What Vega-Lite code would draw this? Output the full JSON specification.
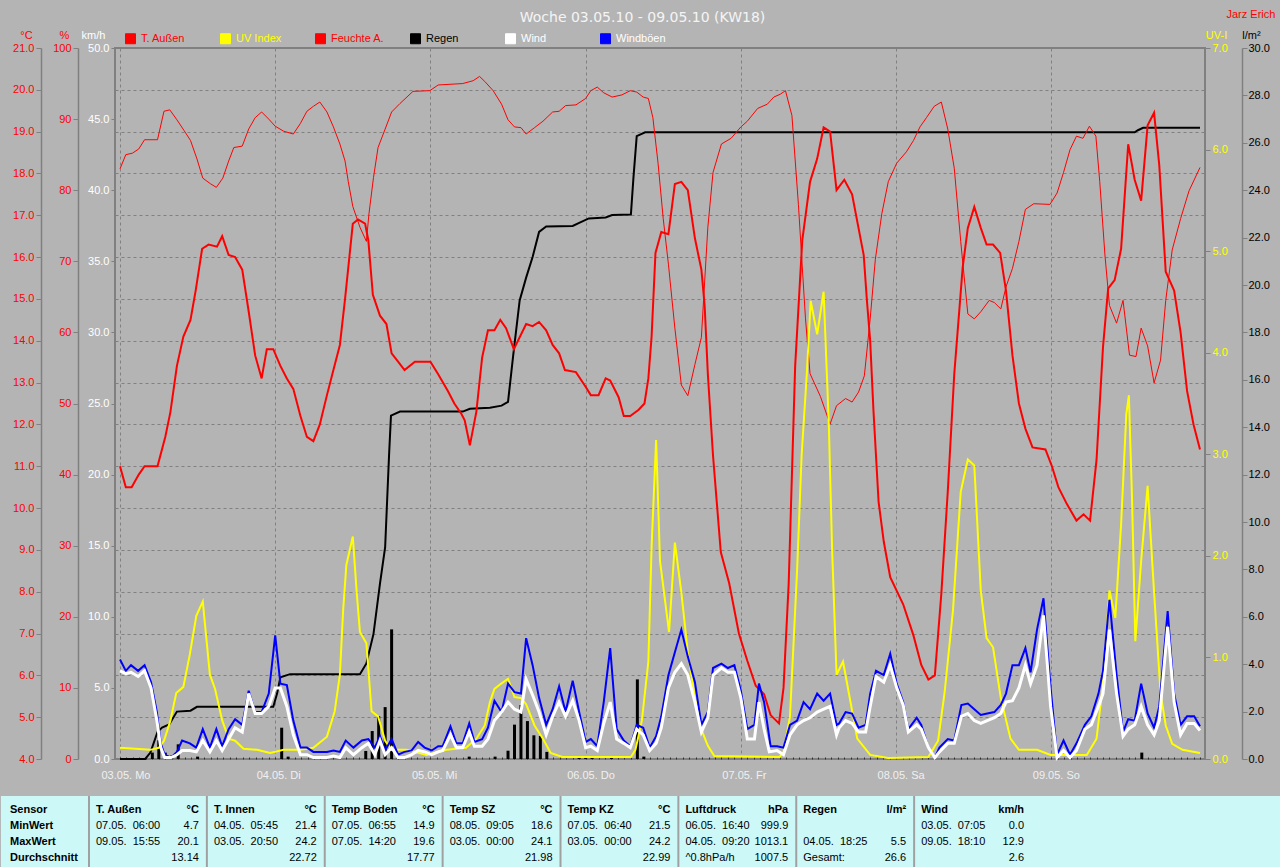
{
  "$schema": "https://vega.github.io/schema/vega-lite/v6.json",
  "background": "#B4B4B4",
  "padding": {"left": 0, "top": 7, "right": 0, "bottom": 0},
  "config": {
    "font": "Liberation Sans",
    "axis": {"labelFont": "Liberation Sans", "labelFontSize": 11, "titleFont": "Liberation Sans", "titleFontSize": 11, "titleFontWeight": "normal", "domainColor": "#808080", "domainWidth": 1.5, "tickColor": "#808080", "tickSize": 5, "labelPadding": 2, "labelOverlap": false, "labelFlush": false, "grid": false, "titleAngle": 0, "titleAlign": "center", "titleBaseline": "alphabetic", "titlePadding": 0},
    "text": {"font": "Liberation Sans", "fontSize": 11, "color": "#000000"},
    "legend": {"labelFont": "Liberation Sans", "labelFontSize": 11}
  },
  "datasets": {
    "temp": [{"h":0,"v":11.0},{"h":0.9,"v":10.5},{"h":1.8,"v":10.5},{"h":2.9,"v":10.8},{"h":3.8,"v":11.0},{"h":5.8,"v":11.0},{"h":7.0,"v":11.7},{"h":7.8,"v":12.3},{"h":8.8,"v":13.4},{"h":9.8,"v":14.1},{"h":10.9,"v":14.5},{"h":11.7,"v":15.2},{"h":12.7,"v":16.2},{"h":13.7,"v":16.3},{"h":15.0,"v":16.25},{"h":15.8,"v":16.5},{"h":16.8,"v":16.05},{"h":17.8,"v":16.0},{"h":18.9,"v":15.7},{"h":19.9,"v":14.7},{"h":20.9,"v":13.65},{"h":21.9,"v":13.1},{"h":22.7,"v":13.8},{"h":23.7,"v":13.8},{"h":24.8,"v":13.4},{"h":25.8,"v":13.1},{"h":26.8,"v":12.85},{"h":27.9,"v":12.2},{"h":28.9,"v":11.7},{"h":29.9,"v":11.6},{"h":30.9,"v":12.0},{"h":32.0,"v":12.7},{"h":33.0,"v":13.3},{"h":34.0,"v":13.9},{"h":34.8,"v":15.0},{"h":36.0,"v":16.8},{"h":36.8,"v":16.9},{"h":37.9,"v":16.8},{"h":38.4,"v":16.4},{"h":39.1,"v":15.1},{"h":40.2,"v":14.6},{"h":41.2,"v":14.4},{"h":42.0,"v":13.7},{"h":43.0,"v":13.5},{"h":44.0,"v":13.3},{"h":45.6,"v":13.5},{"h":48.0,"v":13.5},{"h":49.2,"v":13.2},{"h":50.7,"v":12.8},{"h":51.7,"v":12.5},{"h":52.8,"v":12.25},{"h":53.3,"v":12.1},{"h":54.1,"v":11.5},{"h":55.1,"v":12.3},{"h":56.0,"v":13.6},{"h":56.9,"v":14.25},{"h":57.9,"v":14.25},{"h":58.8,"v":14.5},{"h":59.7,"v":14.3},{"h":60.9,"v":13.8},{"h":62.8,"v":14.4},{"h":63.8,"v":14.35},{"h":64.8,"v":14.45},{"h":65.9,"v":14.25},{"h":66.9,"v":13.9},{"h":67.9,"v":13.7},{"h":68.8,"v":13.3},{"h":70.5,"v":13.25},{"h":72.0,"v":12.9},{"h":72.8,"v":12.7},{"h":74.0,"v":12.7},{"h":75.1,"v":13.1},{"h":75.8,"v":13.05},{"h":77.1,"v":12.65},{"h":77.9,"v":12.2},{"h":78.9,"v":12.2},{"h":80.2,"v":12.35},{"h":81.1,"v":12.5},{"h":81.7,"v":13.1},{"h":82.2,"v":14.1},{"h":82.8,"v":16.1},{"h":83.7,"v":16.6},{"h":84.8,"v":16.55},{"h":85.8,"v":17.75},{"h":86.8,"v":17.8},{"h":87.8,"v":17.6},{"h":88.9,"v":16.45},{"h":89.9,"v":15.7},{"h":90.4,"v":14.85},{"h":90.9,"v":13.2},{"h":91.7,"v":11.25},{"h":92.9,"v":8.95},{"h":94.2,"v":8.2},{"h":95.7,"v":7.0},{"h":97.0,"v":6.35},{"h":98.3,"v":5.75},{"h":99.6,"v":5.55},{"h":100.6,"v":5.05},{"h":101.9,"v":4.85},{"h":102.6,"v":5.7},{"h":103.4,"v":8.2},{"h":104.4,"v":13.4},{"h":105.5,"v":16.4},{"h":106.7,"v":17.8},{"h":107.8,"v":18.35},{"h":108.8,"v":19.1},{"h":109.8,"v":19.0},{"h":110.8,"v":17.6},{"h":112.0,"v":17.85},{"h":113.2,"v":17.5},{"h":115.0,"v":16.05},{"h":115.5,"v":14.95},{"h":116.0,"v":14.0},{"h":116.5,"v":12.35},{"h":117.3,"v":10.15},{"h":118.1,"v":9.2},{"h":119.1,"v":8.35},{"h":121.1,"v":7.7},{"h":122.7,"v":6.95},{"h":123.9,"v":6.25},{"h":125.0,"v":5.9},{"h":126.0,"v":6.0},{"h":127.0,"v":7.95},{"h":128.0,"v":10.4},{"h":129.0,"v":13.2},{"h":130.3,"v":15.75},{"h":131.1,"v":16.7},{"h":132.1,"v":17.2},{"h":133.1,"v":16.7},{"h":134.0,"v":16.3},{"h":135.0,"v":16.3},{"h":136.1,"v":16.1},{"h":137.0,"v":15.2},{"h":138.0,"v":13.65},{"h":139.0,"v":12.5},{"h":140.0,"v":11.9},{"h":141.1,"v":11.45},{"h":143.1,"v":11.4},{"h":144.1,"v":11.0},{"h":145.1,"v":10.5},{"h":146.4,"v":10.1},{"h":147.9,"v":9.7},{"h":149.0,"v":9.85},{"h":150.0,"v":9.7},{"h":151.0,"v":11.15},{"h":152.0,"v":13.85},{"h":152.8,"v":15.25},{"h":153.8,"v":15.45},{"h":154.8,"v":16.2},{"h":155.9,"v":18.7},{"h":156.9,"v":17.85},{"h":157.9,"v":17.35},{"h":158.9,"v":19.15},{"h":159.9,"v":19.45},{"h":160.7,"v":18.2},{"h":161.7,"v":15.65},{"h":163.0,"v":15.2},{"h":164.0,"v":14.2},{"h":165.0,"v":12.8},{"h":166.0,"v":12.0},{"h":167.0,"v":11.4}],
    "hum": [{"h":0,"v":83.0},{"h":0.9,"v":85.0},{"h":1.9,"v":85.2},{"h":2.9,"v":85.8},{"h":3.8,"v":87.1},{"h":5.8,"v":87.1},{"h":6.8,"v":91.1},{"h":7.7,"v":91.3},{"h":8.8,"v":89.9},{"h":9.9,"v":88.4},{"h":10.9,"v":87.0},{"h":11.9,"v":84.4},{"h":12.8,"v":81.7},{"h":14.0,"v":80.9},{"h":14.9,"v":80.4},{"h":15.9,"v":81.7},{"h":16.8,"v":84.1},{"h":17.6,"v":86.0},{"h":18.9,"v":86.2},{"h":19.9,"v":88.6},{"h":20.9,"v":90.2},{"h":21.9,"v":91.0},{"h":23.0,"v":90.0},{"h":24.0,"v":89.0},{"h":25.3,"v":88.3},{"h":26.8,"v":87.9},{"h":27.9,"v":89.4},{"h":28.9,"v":91.1},{"h":29.9,"v":91.8},{"h":30.9,"v":92.4},{"h":32.0,"v":91.0},{"h":33.0,"v":88.9},{"h":34.0,"v":86.5},{"h":34.8,"v":84.1},{"h":35.3,"v":81.2},{"h":36.0,"v":77.7},{"h":37.1,"v":74.8},{"h":38.1,"v":72.8},{"h":38.5,"v":76.7},{"h":39.2,"v":81.8},{"h":39.9,"v":86.0},{"h":41.0,"v":88.6},{"h":42.0,"v":91.0},{"h":43.3,"v":92.2},{"h":45.3,"v":93.9},{"h":47.9,"v":94.0},{"h":49.2,"v":94.8},{"h":53.0,"v":95.0},{"h":54.6,"v":95.4},{"h":55.6,"v":96.0},{"h":56.4,"v":95.3},{"h":57.7,"v":94.0},{"h":59.0,"v":92.1},{"h":60.0,"v":89.9},{"h":61.0,"v":88.9},{"h":62.0,"v":88.8},{"h":62.8,"v":87.9},{"h":64.1,"v":88.8},{"h":65.4,"v":89.7},{"h":66.9,"v":91.0},{"h":67.9,"v":91.1},{"h":68.9,"v":91.9},{"h":70.5,"v":92.0},{"h":72.0,"v":92.9},{"h":72.8,"v":94.0},{"h":73.8,"v":94.5},{"h":74.8,"v":93.7},{"h":76.1,"v":93.1},{"h":77.6,"v":93.4},{"h":78.9,"v":94.0},{"h":79.9,"v":93.8},{"h":80.9,"v":93.1},{"h":81.7,"v":92.9},{"h":82.4,"v":90.2},{"h":83.2,"v":83.8},{"h":84.0,"v":76.0},{"h":84.8,"v":69.6},{"h":85.8,"v":60.6},{"h":86.8,"v":52.6},{"h":87.8,"v":51.1},{"h":88.9,"v":55.5},{"h":89.9,"v":59.3},{"h":90.9,"v":74.8},{"h":91.7,"v":82.5},{"h":93.0,"v":86.5},{"h":94.5,"v":87.3},{"h":96.0,"v":88.9},{"h":97.0,"v":89.7},{"h":98.6,"v":91.5},{"h":100.1,"v":92.1},{"h":101.1,"v":93.1},{"h":102.1,"v":93.5},{"h":102.9,"v":94.0},{"h":103.9,"v":90.5},{"h":104.9,"v":78.0},{"h":106.0,"v":61.9},{"h":106.7,"v":54.2},{"h":108.3,"v":51.0},{"h":109.8,"v":47.1},{"h":110.8,"v":49.7},{"h":112.2,"v":50.7},{"h":113.2,"v":50.2},{"h":114.2,"v":51.6},{"h":115.1,"v":53.9},{"h":116.0,"v":61.9},{"h":116.8,"v":70.3},{"h":117.8,"v":76.7},{"h":118.8,"v":81.2},{"h":120.1,"v":83.8},{"h":121.6,"v":85.4},{"h":122.7,"v":87.0},{"h":123.7,"v":88.9},{"h":124.7,"v":90.2},{"h":125.9,"v":91.8},{"h":127.0,"v":92.4},{"h":128.0,"v":88.6},{"h":129.0,"v":83.1},{"h":130.0,"v":72.8},{"h":131.1,"v":62.6},{"h":132.1,"v":61.9},{"h":133.1,"v":62.9},{"h":134.4,"v":64.5},{"h":135.2,"v":64.2},{"h":136.2,"v":63.3},{"h":137.0,"v":66.4},{"h":138.0,"v":69.0},{"h":139.0,"v":72.8},{"h":140.0,"v":77.3},{"h":141.3,"v":78.1},{"h":143.8,"v":78.0},{"h":144.9,"v":79.6},{"h":145.9,"v":82.5},{"h":146.9,"v":85.7},{"h":147.9,"v":87.6},{"h":148.9,"v":87.3},{"h":149.9,"v":89.0},{"h":150.9,"v":87.6},{"h":151.5,"v":81.2},{"h":152.3,"v":70.9},{"h":153.0,"v":63.8},{"h":154.1,"v":61.3},{"h":155.1,"v":64.5},{"h":156.1,"v":56.8},{"h":157.1,"v":56.6},{"h":157.9,"v":60.6},{"h":158.9,"v":58.1},{"h":159.9,"v":52.9},{"h":160.9,"v":56.1},{"h":161.7,"v":64.5},{"h":162.7,"v":71.6},{"h":164.0,"v":76.0},{"h":165.3,"v":79.9},{"h":167.0,"v":83.2}],
    "uv": [{"h":0,"v":0.11},{"h":4.7,"v":0.09},{"h":6.0,"v":0.11},{"h":6.8,"v":0.18},{"h":7.8,"v":0.38},{"h":8.7,"v":0.65},{"h":9.8,"v":0.71},{"h":10.8,"v":1.03},{"h":11.8,"v":1.41},{"h":12.8,"v":1.55},{"h":13.9,"v":0.83},{"h":14.7,"v":0.69},{"h":15.8,"v":0.38},{"h":16.8,"v":0.2},{"h":17.8,"v":0.18},{"h":19.1,"v":0.1},{"h":21.2,"v":0.09},{"h":23.2,"v":0.06},{"h":25.3,"v":0.09},{"h":27.9,"v":0.09},{"h":29.9,"v":0.11},{"h":32.0,"v":0.22},{"h":33.2,"v":0.47},{"h":34.0,"v":0.83},{"h":34.5,"v":1.46},{"h":35.0,"v":1.91},{"h":36.0,"v":2.19},{"h":36.6,"v":1.64},{"h":37.1,"v":1.25},{"h":38.1,"v":1.14},{"h":38.9,"v":0.47},{"h":39.9,"v":0.42},{"h":41.0,"v":0.18},{"h":42.0,"v":0.09},{"h":44.3,"v":0.09},{"h":47.4,"v":0.04},{"h":50.5,"v":0.09},{"h":53.5,"v":0.11},{"h":55.1,"v":0.2},{"h":56.4,"v":0.33},{"h":57.2,"v":0.56},{"h":57.9,"v":0.69},{"h":58.9,"v":0.74},{"h":60.0,"v":0.79},{"h":61.0,"v":0.61},{"h":62.0,"v":0.6},{"h":62.8,"v":0.54},{"h":64.1,"v":0.33},{"h":65.4,"v":0.2},{"h":66.6,"v":0.06},{"h":68.4,"v":0.02},{"h":79.0,"v":0.02},{"h":79.7,"v":0.09},{"h":80.7,"v":0.38},{"h":81.7,"v":0.96},{"h":82.2,"v":2.09},{"h":82.9,"v":3.14},{"h":83.5,"v":1.95},{"h":84.9,"v":1.25},{"h":85.8,"v":2.13},{"h":86.8,"v":1.64},{"h":87.8,"v":1.05},{"h":88.9,"v":0.6},{"h":89.9,"v":0.29},{"h":90.9,"v":0.13},{"h":91.9,"v":0.03},{"h":102.0,"v":0.02},{"h":102.6,"v":0.07},{"h":103.6,"v":0.42},{"h":104.7,"v":1.86},{"h":105.4,"v":2.99},{"h":106.2,"v":3.79},{"h":106.8,"v":4.51},{"h":107.8,"v":4.18},{"h":108.8,"v":4.6},{"h":109.6,"v":3.3},{"h":110.1,"v":2.09},{"h":110.8,"v":0.83},{"h":111.8,"v":0.96},{"h":112.7,"v":0.65},{"h":114.0,"v":0.2},{"h":116.0,"v":0.04},{"h":118.8,"v":0.01},{"h":125.0,"v":0.02},{"h":126.5,"v":0.18},{"h":127.5,"v":0.65},{"h":128.8,"v":1.46},{"h":130.0,"v":2.63},{"h":131.1,"v":2.95},{"h":132.1,"v":2.89},{"h":133.1,"v":1.66},{"h":134.0,"v":1.19},{"h":135.0,"v":1.1},{"h":136.2,"v":0.6},{"h":137.7,"v":0.2},{"h":139.0,"v":0.09},{"h":141.8,"v":0.09},{"h":143.9,"v":0.04},{"h":149.5,"v":0.04},{"h":151.0,"v":0.2},{"h":152.0,"v":0.74},{"h":153.0,"v":1.66},{"h":153.9,"v":1.39},{"h":154.8,"v":2.31},{"h":155.6,"v":3.39},{"h":156.0,"v":3.58},{"h":156.5,"v":2.54},{"h":157.0,"v":1.16},{"h":157.9,"v":1.95},{"h":158.9,"v":2.69},{"h":159.9,"v":1.64},{"h":160.9,"v":0.65},{"h":161.7,"v":0.33},{"h":162.7,"v":0.15},{"h":164.3,"v":0.09},{"h":167.0,"v":0.06}],
    "rainsum": [{"h":0,"v":0},{"h":3.9,"v":0},{"h":4.7,"v":0.27},{"h":5.8,"v":1.14},{"h":6.5,"v":1.33},{"h":7.6,"v":1.46},{"h":8.8,"v":2.0},{"h":10.9,"v":2.04},{"h":11.9,"v":2.2},{"h":23.7,"v":2.2},{"h":24.3,"v":2.77},{"h":24.8,"v":3.45},{"h":26.3,"v":3.58},{"h":37.1,"v":3.58},{"h":38.1,"v":4.03},{"h":39.2,"v":5.28},{"h":40.2,"v":7.4},{"h":41.0,"v":8.94},{"h":41.3,"v":10.87},{"h":41.6,"v":12.79},{"h":41.9,"v":14.49},{"h":43.3,"v":14.66},{"h":53.0,"v":14.66},{"h":54.1,"v":14.78},{"h":57.2,"v":14.82},{"h":59.0,"v":14.91},{"h":60.0,"v":15.07},{"h":60.8,"v":17.03},{"h":61.8,"v":19.35},{"h":62.8,"v":20.31},{"h":63.8,"v":21.18},{"h":64.8,"v":22.24},{"h":65.9,"v":22.47},{"h":70.0,"v":22.49},{"h":71.0,"v":22.62},{"h":72.5,"v":22.81},{"h":75.1,"v":22.85},{"h":76.1,"v":22.95},{"h":79.0,"v":22.97},{"h":79.4,"v":24.55},{"h":79.9,"v":26.28},{"h":81.2,"v":26.44},{"h":156.9,"v":26.44},{"h":157.4,"v":26.53},{"h":158.2,"v":26.63},{"h":167.0,"v":26.63}],
    "rainbar": [{"h":5,"v":0.27},{"h":6,"v":0.79},{"h":7,"v":0.27},{"h":8,"v":0.15},{"h":9,"v":0.62},{"h":12,"v":0.1},{"h":25,"v":1.32},{"h":26,"v":0.1},{"h":38,"v":0.34},{"h":39,"v":1.18},{"h":40,"v":1.81},{"h":41,"v":2.19},{"h":42,"v":5.47},{"h":43,"v":0.1},{"h":54,"v":0.1},{"h":58,"v":0.1},{"h":60,"v":0.35},{"h":61,"v":1.45},{"h":62,"v":2.28},{"h":63,"v":1.6},{"h":64,"v":1.0},{"h":65,"v":0.97},{"h":66,"v":0.3},{"h":71,"v":0.1},{"h":72,"v":0.1},{"h":73,"v":0.1},{"h":76,"v":0.1},{"h":80,"v":3.36},{"h":81,"v":0.1},{"h":158,"v":0.27}],
    "gust": [{"h":0,"v":7.0},{"h":0.9,"v":6.2},{"h":1.7,"v":6.6},{"h":2.8,"v":6.2},{"h":3.8,"v":6.6},{"h":4.8,"v":5.4},{"h":5.7,"v":3.3},{"h":6.3,"v":1.1},{"h":6.9,"v":0.3},{"h":7.9,"v":0.1},{"h":8.8,"v":0.5},{"h":9.6,"v":1.3},{"h":10.8,"v":1.1},{"h":11.8,"v":0.8},{"h":12.8,"v":2.1},{"h":13.9,"v":0.8},{"h":14.9,"v":2.1},{"h":15.8,"v":0.9},{"h":16.8,"v":2.1},{"h":17.8,"v":2.8},{"h":18.9,"v":2.4},{"h":19.9,"v":4.8},{"h":20.9,"v":3.3},{"h":21.9,"v":3.3},{"h":23.0,"v":4.6},{"h":24.0,"v":8.7},{"h":24.8,"v":5.3},{"h":25.8,"v":5.2},{"h":26.8,"v":2.7},{"h":27.9,"v":0.8},{"h":28.9,"v":0.8},{"h":29.9,"v":0.5},{"h":30.9,"v":0.5},{"h":32.0,"v":0.5},{"h":33.0,"v":0.6},{"h":34.0,"v":0.5},{"h":34.9,"v":1.3},{"h":36.1,"v":0.8},{"h":37.4,"v":1.3},{"h":38.4,"v":1.4},{"h":39.4,"v":0.8},{"h":40.2,"v":1.6},{"h":41.0,"v":0.6},{"h":42.0,"v":1.4},{"h":43.0,"v":0.3},{"h":44.0,"v":0.5},{"h":45.1,"v":0.6},{"h":46.1,"v":1.2},{"h":47.1,"v":0.8},{"h":48.2,"v":0.6},{"h":49.2,"v":0.9},{"h":49.9,"v":0.9},{"h":51.1,"v":2.3},{"h":52.0,"v":1.1},{"h":53.0,"v":1.1},{"h":54.0,"v":2.5},{"h":54.8,"v":1.2},{"h":56.0,"v":1.4},{"h":56.9,"v":2.2},{"h":57.9,"v":4.1},{"h":59.0,"v":3.3},{"h":60.0,"v":5.3},{"h":61.0,"v":4.7},{"h":62.0,"v":4.6},{"h":62.8,"v":8.5},{"h":63.8,"v":6.6},{"h":64.8,"v":4.3},{"h":65.9,"v":2.4},{"h":66.9,"v":3.5},{"h":67.9,"v":5.1},{"h":68.9,"v":3.3},{"h":70.0,"v":5.5},{"h":71.0,"v":3.3},{"h":72.0,"v":1.2},{"h":72.8,"v":1.4},{"h":73.8,"v":0.9},{"h":74.8,"v":4.0},{"h":75.8,"v":7.8},{"h":76.8,"v":2.1},{"h":77.9,"v":1.3},{"h":78.9,"v":0.9},{"h":79.9,"v":2.4},{"h":80.9,"v":2.2},{"h":81.9,"v":0.8},{"h":82.9,"v":1.6},{"h":83.7,"v":3.0},{"h":84.8,"v":5.9},{"h":85.8,"v":7.5},{"h":86.8,"v":9.1},{"h":87.8,"v":7.2},{"h":88.9,"v":5.4},{"h":89.9,"v":2.4},{"h":90.9,"v":3.3},{"h":91.7,"v":6.4},{"h":93.0,"v":6.7},{"h":94.0,"v":6.4},{"h":95.0,"v":6.6},{"h":96.0,"v":4.8},{"h":97.0,"v":2.1},{"h":98.1,"v":2.4},{"h":98.8,"v":5.3},{"h":99.6,"v":4.0},{"h":100.6,"v":0.9},{"h":101.6,"v":0.9},{"h":102.6,"v":0.8},{"h":103.6,"v":2.4},{"h":104.7,"v":2.7},{"h":105.7,"v":4.0},{"h":106.7,"v":3.5},{"h":107.8,"v":4.6},{"h":108.8,"v":4.1},{"h":109.8,"v":4.6},{"h":110.8,"v":2.4},{"h":111.2,"v":2.5},{"h":112.2,"v":3.3},{"h":113.2,"v":3.2},{"h":114.2,"v":2.2},{"h":115.3,"v":2.4},{"h":116.0,"v":4.6},{"h":116.9,"v":6.2},{"h":118.1,"v":5.9},{"h":119.1,"v":7.4},{"h":120.1,"v":5.3},{"h":121.1,"v":4.0},{"h":121.9,"v":2.1},{"h":123.2,"v":2.9},{"h":123.9,"v":2.4},{"h":125.0,"v":0.8},{"h":126.0,"v":0.1},{"h":126.7,"v":0.8},{"h":128.0,"v":1.4},{"h":129.0,"v":1.3},{"h":130.1,"v":3.8},{"h":131.1,"v":3.9},{"h":132.1,"v":3.5},{"h":133.1,"v":3.1},{"h":134.1,"v":3.2},{"h":135.2,"v":3.3},{"h":136.2,"v":3.8},{"h":137.0,"v":4.6},{"h":138.0,"v":6.6},{"h":139.0,"v":6.6},{"h":140.0,"v":7.8},{"h":140.8,"v":6.1},{"h":141.8,"v":9.1},{"h":142.8,"v":11.3},{"h":143.9,"v":5.0},{"h":144.9,"v":0.3},{"h":145.9,"v":1.3},{"h":146.9,"v":0.3},{"h":147.9,"v":1.1},{"h":149.2,"v":2.4},{"h":150.2,"v":3.0},{"h":151.3,"v":4.6},{"h":152.0,"v":6.2},{"h":153.0,"v":11.2},{"h":154.1,"v":5.9},{"h":155.1,"v":1.9},{"h":155.9,"v":2.8},{"h":156.9,"v":2.7},{"h":157.9,"v":5.3},{"h":158.9,"v":3.2},{"h":159.9,"v":2.2},{"h":160.7,"v":3.7},{"h":162.0,"v":10.4},{"h":163.0,"v":4.6},{"h":164.0,"v":2.4},{"h":165.0,"v":3.0},{"h":166.1,"v":3.0},{"h":167.0,"v":2.3}],
    "wind": [{"h":0,"v":6.2},{"h":0.9,"v":6.0},{"h":1.7,"v":6.1},{"h":2.8,"v":5.8},{"h":3.8,"v":6.2},{"h":4.8,"v":5.0},{"h":5.7,"v":2.7},{"h":6.3,"v":0.8},{"h":6.9,"v":0.1},{"h":7.9,"v":0.1},{"h":8.8,"v":0.3},{"h":9.6,"v":0.6},{"h":10.8,"v":0.6},{"h":11.8,"v":0.5},{"h":12.8,"v":1.3},{"h":13.9,"v":0.5},{"h":14.9,"v":1.3},{"h":15.8,"v":0.6},{"h":16.8,"v":1.4},{"h":17.8,"v":2.2},{"h":18.9,"v":1.9},{"h":19.9,"v":4.6},{"h":20.9,"v":3.2},{"h":21.9,"v":3.2},{"h":23.0,"v":3.7},{"h":24.0,"v":5.0},{"h":24.8,"v":5.0},{"h":25.8,"v":3.7},{"h":26.8,"v":1.7},{"h":27.9,"v":0.3},{"h":28.9,"v":0.3},{"h":29.9,"v":0.1},{"h":30.9,"v":0.1},{"h":32.0,"v":0.1},{"h":33.0,"v":0.2},{"h":34.0,"v":0.1},{"h":34.9,"v":0.8},{"h":36.1,"v":0.3},{"h":37.4,"v":0.8},{"h":38.4,"v":1.1},{"h":39.4,"v":0.3},{"h":40.2,"v":1.3},{"h":41.0,"v":0.3},{"h":42.0,"v":0.8},{"h":43.0,"v":0.1},{"h":44.0,"v":0.1},{"h":45.1,"v":0.3},{"h":46.1,"v":0.6},{"h":47.1,"v":0.5},{"h":48.2,"v":0.3},{"h":49.2,"v":0.5},{"h":49.9,"v":0.6},{"h":51.1,"v":1.7},{"h":52.0,"v":0.8},{"h":53.0,"v":0.8},{"h":54.0,"v":1.9},{"h":54.8,"v":0.9},{"h":56.0,"v":0.9},{"h":56.9,"v":1.4},{"h":57.9,"v":2.7},{"h":59.0,"v":3.3},{"h":60.0,"v":4.0},{"h":61.0,"v":3.5},{"h":62.0,"v":3.3},{"h":62.8,"v":5.6},{"h":63.8,"v":4.5},{"h":64.8,"v":3.3},{"h":65.9,"v":1.7},{"h":66.9,"v":3.0},{"h":67.9,"v":4.0},{"h":68.9,"v":3.0},{"h":70.0,"v":4.1},{"h":71.0,"v":2.7},{"h":72.0,"v":0.8},{"h":72.8,"v":0.9},{"h":73.8,"v":0.6},{"h":74.8,"v":2.5},{"h":75.8,"v":4.0},{"h":76.8,"v":1.4},{"h":77.9,"v":1.1},{"h":78.9,"v":0.8},{"h":79.9,"v":2.1},{"h":80.9,"v":1.7},{"h":81.9,"v":0.6},{"h":82.9,"v":1.1},{"h":83.7,"v":2.2},{"h":84.8,"v":5.0},{"h":85.8,"v":6.1},{"h":86.8,"v":6.7},{"h":87.8,"v":5.9},{"h":88.9,"v":4.0},{"h":89.9,"v":1.9},{"h":90.9,"v":2.9},{"h":91.7,"v":5.9},{"h":93.0,"v":6.4},{"h":94.0,"v":6.1},{"h":95.0,"v":6.1},{"h":96.0,"v":4.3},{"h":97.0,"v":1.4},{"h":98.1,"v":1.4},{"h":98.8,"v":4.0},{"h":99.6,"v":2.1},{"h":100.4,"v":0.5},{"h":101.6,"v":0.6},{"h":102.6,"v":0.3},{"h":103.6,"v":1.7},{"h":104.7,"v":2.4},{"h":105.7,"v":2.7},{"h":106.7,"v":2.9},{"h":107.8,"v":3.3},{"h":108.8,"v":3.5},{"h":109.8,"v":3.7},{"h":110.8,"v":1.7},{"h":111.2,"v":2.2},{"h":112.2,"v":2.7},{"h":113.2,"v":2.5},{"h":114.2,"v":1.9},{"h":115.3,"v":1.9},{"h":116.0,"v":3.7},{"h":116.9,"v":5.8},{"h":118.1,"v":5.4},{"h":119.1,"v":6.6},{"h":120.1,"v":5.0},{"h":121.1,"v":3.8},{"h":121.9,"v":1.9},{"h":123.2,"v":2.4},{"h":123.9,"v":2.1},{"h":125.0,"v":0.8},{"h":126.0,"v":0.1},{"h":126.7,"v":0.5},{"h":128.0,"v":1.1},{"h":129.0,"v":1.1},{"h":130.1,"v":3.0},{"h":131.1,"v":3.2},{"h":132.1,"v":2.7},{"h":133.1,"v":2.5},{"h":134.1,"v":2.7},{"h":135.2,"v":2.9},{"h":136.2,"v":3.2},{"h":137.0,"v":4.0},{"h":138.0,"v":4.1},{"h":139.0,"v":5.0},{"h":140.0,"v":6.6},{"h":140.8,"v":5.3},{"h":141.8,"v":6.6},{"h":142.8,"v":10.1},{"h":143.9,"v":3.7},{"h":144.9,"v":0.1},{"h":145.9,"v":0.6},{"h":146.9,"v":0.1},{"h":147.9,"v":0.6},{"h":149.2,"v":2.1},{"h":150.2,"v":2.4},{"h":151.3,"v":3.7},{"h":152.0,"v":4.6},{"h":153.0,"v":9.1},{"h":154.1,"v":4.6},{"h":155.1,"v":1.6},{"h":155.9,"v":2.1},{"h":156.9,"v":2.4},{"h":157.9,"v":3.7},{"h":158.9,"v":2.4},{"h":159.9,"v":1.7},{"h":160.7,"v":2.7},{"h":162.0,"v":9.3},{"h":163.0,"v":4.0},{"h":164.0,"v":1.7},{"h":165.0,"v":2.5},{"h":166.1,"v":2.5},{"h":167.0,"v":2.0}],
    "cols": [{"col":"T. Außen"},{"col":"T. Innen"},{"col":"Temp Boden"},{"col":"Temp SZ"},{"col":"Temp KZ"},{"col":"Luftdruck"},{"col":"Regen"},{"col":"Wind"}],
    "rows": [{"row":"Sensor"},{"row":"MinWert"},{"row":"MaxWert"},{"row":"Durchschnitt"}],
    "tbl": [
      {"row":"Sensor","col":"T. Außen","left":"T. Außen","right":"°C"},
      {"row":"MinWert","col":"T. Außen","left":"07.05.\u00a0 06:00","right":"4.7"},
      {"row":"MaxWert","col":"T. Außen","left":"09.05.\u00a0 15:55","right":"20.1"},
      {"row":"Durchschnitt","col":"T. Außen","left":"","right":"13.14"},
      {"row":"Sensor","col":"T. Innen","left":"T. Innen","right":"°C"},
      {"row":"MinWert","col":"T. Innen","left":"04.05.\u00a0 05:45","right":"21.4"},
      {"row":"MaxWert","col":"T. Innen","left":"03.05.\u00a0 20:50","right":"24.2"},
      {"row":"Durchschnitt","col":"T. Innen","left":"","right":"22.72"},
      {"row":"Sensor","col":"Temp Boden","left":"Temp Boden","right":"°C"},
      {"row":"MinWert","col":"Temp Boden","left":"07.05.\u00a0 06:55","right":"14.9"},
      {"row":"MaxWert","col":"Temp Boden","left":"07.05.\u00a0 14:20","right":"19.6"},
      {"row":"Durchschnitt","col":"Temp Boden","left":"","right":"17.77"},
      {"row":"Sensor","col":"Temp SZ","left":"Temp SZ","right":"°C"},
      {"row":"MinWert","col":"Temp SZ","left":"08.05.\u00a0 09:05","right":"18.6"},
      {"row":"MaxWert","col":"Temp SZ","left":"03.05.\u00a0 00:00","right":"24.1"},
      {"row":"Durchschnitt","col":"Temp SZ","left":"","right":"21.98"},
      {"row":"Sensor","col":"Temp KZ","left":"Temp KZ","right":"°C"},
      {"row":"MinWert","col":"Temp KZ","left":"07.05.\u00a0 06:40","right":"21.5"},
      {"row":"MaxWert","col":"Temp KZ","left":"03.05.\u00a0 00:00","right":"24.2"},
      {"row":"Durchschnitt","col":"Temp KZ","left":"","right":"22.99"},
      {"row":"Sensor","col":"Luftdruck","left":"Luftdruck","right":"hPa"},
      {"row":"MinWert","col":"Luftdruck","left":"06.05.\u00a0 16:40","right":"999.9"},
      {"row":"MaxWert","col":"Luftdruck","left":"04.05.\u00a0 09:20","right":"1013.1"},
      {"row":"Durchschnitt","col":"Luftdruck","left":"^0.8hPa/h","right":"1007.5"},
      {"row":"Sensor","col":"Regen","left":"Regen","right":"l/m²"},
      {"row":"MinWert","col":"Regen","left":"","right":""},
      {"row":"MaxWert","col":"Regen","left":"04.05.\u00a0 18:25","right":"5.5"},
      {"row":"Durchschnitt","col":"Regen","left":"Gesamt:","right":"26.6"},
      {"row":"Sensor","col":"Wind","left":"Wind","right":"km/h"},
      {"row":"MinWert","col":"Wind","left":"03.05.\u00a0 07:05","right":"0.0"},
      {"row":"MaxWert","col":"Wind","left":"09.05.\u00a0 18:10","right":"12.9"},
      {"row":"Durchschnitt","col":"Wind","left":"","right":"2.6"}
    ]
  },
  "columns": 1,
  "spacing": 14,
  "concat": [
    {
      "width": 1090,
      "height": 711,
      "view": {"stroke": "#808080", "strokeWidth": 2},
      "layer": [
        {
          "layer": [
            {"data": {"name": "rainbar"}, "mark": {"type": "bar", "orient": "vertical", "width": 3}, "encoding": {"color": {"datum": "Regen", "type": "nominal"}}},
            {"data": {"name": "rainsum"}, "mark": {"type": "line", "strokeWidth": 2}, "encoding": {"color": {"datum": "Regen", "type": "nominal"}}}
          ],
          "encoding": {
            "x": {"field": "h", "type": "quantitative", "scale": {"domain": [0, 167], "nice": false, "zero": false}, "axis": null},
            "y": {"field": "v", "type": "quantitative", "scale": {"domain": [0, 30], "nice": false}, "axis": {"orient": "right", "offset": 37, "values": [0,2,4,6,8,10,12,14,16,18,20,22,24,26,28,30], "format": ".1f", "labelColor": "#000000", "labelPadding": 1, "title": "l/m²", "titleColor": "#000000", "titleX": 9, "titleY": -10}}
          }
        },
        {
          "data": {"name": "hum"},
          "mark": {"type": "line", "strokeWidth": 1},
          "encoding": {
            "x": {"field": "h", "type": "quantitative", "axis": {"orient": "top", "ticks": false, "labels": false, "domain": false, "grid": false, "title": "Woche 03.05.10 - 09.05.10 (KW18)", "titleColor": "#F4F4F4", "titleFont": "DejaVu Sans", "titleFontSize": 14, "titleX": 527, "titleY": -27, "titleAlign": "center", "titleBaseline": "alphabetic"}},
            "y": {"field": "v", "type": "quantitative", "scale": {"domain": [0, 100], "nice": false}, "axis": {"orient": "left", "offset": 37, "values": [0,10,20,30,40,50,60,70,80,90,100], "format": "d", "labelColor": "#FF0000", "title": "%", "titleColor": "#FF0000", "titleX": -14, "titleY": -10}},
            "color": {"datum": "Feuchte A.", "type": "nominal"}
          }
        },
        {
          "data": {"name": "temp"},
          "mark": {"type": "line", "strokeWidth": 2},
          "encoding": {
            "x": {"field": "h", "type": "quantitative", "axis": {"orient": "bottom", "tickCount": 168, "labels": false, "ticks": true, "tickSize": -2, "tickColor": "#303030", "tickWidth": 1, "domain": false, "grid": false, "title": null}},
            "y": {"field": "v", "type": "quantitative", "scale": {"domain": [4, 21], "nice": false, "zero": false}, "axis": {"orient": "left", "offset": 74, "values": [4,5,6,7,8,9,10,11,12,13,14,15,16,17,18,19,20,21], "format": ".1f", "labelColor": "#FF0000", "grid": true, "gridColor": "#808080", "gridDash": [3, 3], "gridWidth": 1, "title": "°C", "titleColor": "#FF0000", "titleX": -15, "titleY": -10}},
            "color": {
              "datum": "T. Außen", "type": "nominal",
              "scale": {"domain": ["T. Außen", "UV Index", "Feuchte A.", "Regen", "Wind", "Windböen"], "range": ["#FF0000", "#FFFF00", "#FF0000", "#000000", "#FFFFFF", "#0000FF"]},
              "legend": {
                "orient": "none", "legendX": 10, "legendY": -15, "direction": "horizontal", "columns": 6, "title": null,
                "symbolType": "square", "symbolSize": 100, "labelOffset": 5, "columnPadding": 23, "gridAlign": "all", "padding": 0, "labelLimit": 200,
                "encode": {
                  "symbols": {"update": {
                    "shape": {"value": "square"},
                    "fill": [{"test": "datum.value === 'UV Index'", "value": "#FFFF00"}, {"test": "datum.value === 'Regen'", "value": "#000000"}, {"test": "datum.value === 'Wind'", "value": "#FFFFFF"}, {"test": "datum.value === 'Windböen'", "value": "#0000FF"}, {"value": "#FF0000"}],
                    "stroke": {"value": "#FFFFFF"}, "strokeWidth": {"value": 1}, "opacity": {"value": 1}, "size": {"value": 100}}},
                  "labels": {"update": {
                    "fill": [{"test": "datum.value === 'UV Index'", "value": "#FFFF00"}, {"test": "datum.value === 'Regen'", "value": "#000000"}, {"test": "datum.value === 'Wind' || datum.value === 'Windböen'", "value": "#FFFFFF"}, {"value": "#FF0000"}]}}
                }
              }
            }
          }
        },
        {
          "data": {"name": "uv"},
          "mark": {"type": "line", "strokeWidth": 2},
          "encoding": {
            "x": {"field": "h", "type": "quantitative", "axis": {"orient": "top", "ticks": false, "labels": false, "domain": false, "grid": false, "title": "Jarz Erich", "titleColor": "#FF0000", "titleX": 1111, "titleY": -31, "titleAlign": "left", "titleBaseline": "alphabetic"}},
            "y": {"field": "v", "type": "quantitative", "scale": {"domain": [0, 7], "nice": false}, "axis": {"orient": "right", "offset": 0, "values": [0,1,2,3,4,5,6,7], "format": ".1f", "labelColor": "#FFFF00", "domain": false, "title": "UV-I", "titleColor": "#FFFF00", "titleX": 11, "titleY": -10}},
            "color": {"datum": "UV Index", "type": "nominal"}
          }
        },
        {
          "layer": [
            {"data": {"name": "gust"}, "mark": {"type": "line", "strokeWidth": 2}, "encoding": {"color": {"datum": "Windböen", "type": "nominal"}}},
            {"data": {"name": "wind"}, "mark": {"type": "line", "strokeWidth": 3}, "encoding": {"color": {"datum": "Wind", "type": "nominal"}}}
          ],
          "encoding": {
            "x": {"field": "h", "type": "quantitative", "axis": {"orient": "bottom", "values": [0,24,48,72,96,120,144], "labelExpr": "['03.05. Mo','04.05. Di','05.05. Mi','06.05. Do','07.05. Fr','08.05. Sa','09.05. So'][round(datum.value / 24)]", "labelAlign": "left", "labelOffset": -19, "labelPadding": 10, "ticks": false, "tickSize": 0, "domain": false, "labelColor": "#F0F0F0", "grid": true, "gridColor": "#808080", "gridDash": [3, 3], "gridWidth": 1, "title": null}},
            "y": {"field": "v", "type": "quantitative", "scale": {"domain": [0, 50], "nice": false}, "axis": {"orient": "left", "offset": 0, "values": [0,5,10,15,20,25,30,35,40,45,50], "format": ".1f", "labelColor": "#FFFFFF", "tickSize": 4, "domain": false, "title": "km/h", "titleColor": "#FFFFFF", "titleX": -22, "titleY": -10}}
          }
        }
      ],
      "resolve": {"scale": {"y": "independent"}, "axis": {"x": "independent"}}
    },
    {
      "width": 1166,
      "height": 72,
      "view": {"stroke": null, "fill": "#CCF8F8"},
      "layer": [
        {
          "data": {"name": "rows"},
          "transform": [{"filter": "datum.row === 'Sensor'"}],
          "mark": {"type": "bar", "color": "#CCF8F8", "width": 294},
          "encoding": {"x": {"datum": "T. Außen", "type": "nominal", "scale": {"type": "band", "domain": ["T. Außen","T. Innen","Temp Boden","Temp SZ","Temp KZ","Luftdruck","Regen","Wind"], "range": [-26, 917], "paddingInner": 0, "paddingOuter": 0}, "axis": null}}
        },
        {
          "data": {"name": "cols"},
          "mark": {"type": "rule", "color": "#A0A0A0", "strokeWidth": 2},
          "encoding": {"x": {"field": "col", "type": "nominal", "bandPosition": 0, "axis": null}}
        },
        {
          "data": {"name": "rows"},
          "mark": {"type": "text", "align": "left", "dx": -79, "fontWeight": "bold"},
          "encoding": {
            "x": {"datum": "T. Außen", "type": "nominal", "bandPosition": 0, "axis": null},
            "y": {"field": "row", "type": "nominal", "scale": {"type": "band", "domain": ["Sensor","MinWert","MaxWert","Durchschnitt"], "paddingInner": 0, "paddingOuter": 0.264, "align": 0.72}, "axis": null},
            "text": {"field": "row"}
          }
        },
        {
          "data": {"name": "tbl"},
          "transform": [{"filter": "datum.row === 'Sensor'"}],
          "layer": [
            {"mark": {"type": "text", "align": "left", "dx": 7, "fontWeight": "bold"}, "encoding": {"x": {"field": "col", "type": "nominal", "bandPosition": 0, "axis": null}, "text": {"field": "left"}}},
            {"mark": {"type": "text", "align": "right", "dx": -8, "fontWeight": "bold"}, "encoding": {"x": {"field": "col", "type": "nominal", "bandPosition": 1, "axis": null}, "text": {"field": "right"}}}
          ],
          "encoding": {"y": {"field": "row", "type": "nominal", "axis": null}}
        },
        {
          "data": {"name": "tbl"},
          "transform": [{"filter": "datum.row !== 'Sensor'"}],
          "layer": [
            {"mark": {"type": "text", "align": "left", "dx": 7}, "encoding": {"x": {"field": "col", "type": "nominal", "bandPosition": 0, "axis": null}, "text": {"field": "left"}}},
            {"mark": {"type": "text", "align": "right", "dx": -8}, "encoding": {"x": {"field": "col", "type": "nominal", "bandPosition": 1, "axis": null}, "text": {"field": "right"}}}
          ],
          "encoding": {"y": {"field": "row", "type": "nominal", "axis": null}}
        }
      ]
    }
  ]
}
